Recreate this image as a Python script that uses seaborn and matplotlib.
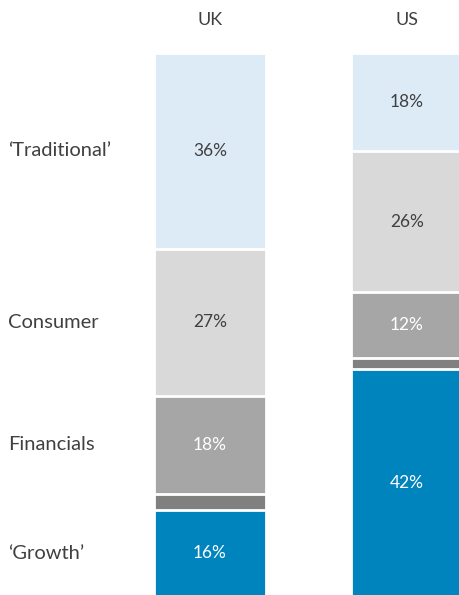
import numpy as np
import matplotlib
matplotlib.use("Agg")
import matplotlib.pyplot as plt
import seaborn as sns

regions = ["UK", "US"]
segments = ["'Growth'", "Other", "Financials", "Consumer", "'Traditional'"]
row_labels = ["\u2018Growth\u2019", "", "Financials", "Consumer", "\u2018Traditional\u2019"]
uk_values = [16, 3, 18, 27, 36]
us_values = [42, 2, 12, 26, 18]
colors = ["#0084BD", "#808080", "#A6A6A6", "#D9D9D9", "#DDEBF7"]
text_colors = ["white", None, "white", "#404040", "#404040"]

sns.set_theme(style="white")
plt.rcParams["font.family"] = ["Lato", "DejaVu Sans"]

fig = plt.figure(figsize=(4.6, 5.95), dpi=100, facecolor="white")
# bars run slightly past the bottom edge, as in the source image
ax = fig.add_axes([0, -2 / 595, 1, 544 / 595])

values = np.array([uk_values, us_values])
cum = values.cumsum(axis=1)
bar_w = 0.57

# stacked bars drawn back to front as overlapping cumulative totals
for i in range(len(segments) - 1, -1, -1):
    sns.barplot(x=regions, y=cum[:, i], color=colors[i], width=bar_w,
                edgecolor="white", linewidth=2, saturation=1, ax=ax)

for j, reg in enumerate(regions):
    for i in range(len(segments)):
        if text_colors[i] is None:
            continue
        mid = cum[j, i] - values[j, i] / 2
        ax.text(j, mid, f"{values[j, i]}%", ha="center", va="center",
                color=text_colors[i], fontsize=12.5)
    ax.text(j, 106, reg, ha="center", va="center", color="#404040",
            fontsize=13, clip_on=False)

for i, lab in enumerate(row_labels):
    if not lab:
        continue
    mid = cum[0, i] - values[0, i] / 2
    ax.text(-1.025, mid, lab, ha="left", va="center", color="#404040",
            fontsize=14.5)

ax.set_xlim(-1.066, 1.269)
ax.set_ylim(0, 100)
ax.axis("off")

fig.savefig("out.png", dpi=100, facecolor="white")
